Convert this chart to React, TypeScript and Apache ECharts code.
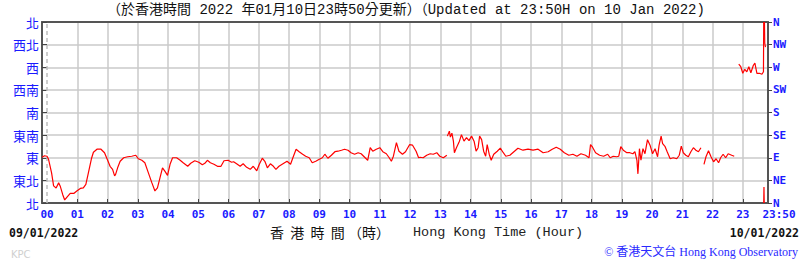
import React, { useEffect, useRef } from 'react';
import * as echarts from 'echarts';

const hourTickMinutes = [60, 120, 180, 240, 300, 360, 420, 480, 540, 600, 660, 720, 780, 840, 900, 960, 1020, 1080, 1140, 1200, 1260, 1320, 1380];
const labelMinutes = [0, 60, 120, 180, 240, 300, 360, 420, 480, 540, 600, 660, 720, 780, 840, 900, 960, 1020, 1080, 1140, 1200, 1260, 1320, 1380, 1430];
const hourLabels = ['00', '01', '02', '03', '04', '05', '06', '07', '08', '09', '10', '11', '12', '13', '14', '15', '16', '17', '18', '19', '20', '21', '22', '23', '23:50'];
const dirLabelsZh = ['北', '東北', '東', '東南', '南', '西南', '西', '西北', '北'];
const dirLabelsEn = ['N', 'NE', 'E', 'SE', 'S', 'SW', 'W', 'NW', 'N'];

const seg1: [number, number][] = [
  [-10, 91], [-5, 94], [0, 93], [3, 87], [9, 60], [13, 34], [18, 30], [23, 40], [26, 34], [31, 17], [35, 6], [40, 12], [46, 19], [53, 19], [59, 24], [66, 29], [72, 30], [77, 37], [82, 60], [88, 88], [92, 101], [99, 107], [107, 107], [114, 100], [121, 83], [125, 73], [130, 67], [134, 54], [136, 57], [140, 70], [145, 83], [152, 90], [160, 92], [168, 93], [176, 95], [181, 88], [188, 85], [194, 80], [201, 60], [208, 40], [214, 24], [219, 30], [224, 50], [229, 70], [234, 63], [239, 55], [244, 77], [249, 90], [257, 90], [264, 85], [270, 80], [279, 73], [285, 79], [293, 84], [301, 81], [308, 76], [313, 79], [318, 85], [324, 80], [331, 77], [338, 73], [345, 73], [351, 84], [359, 85], [366, 81],
  [370, 82], [376, 78], [383, 73], [389, 78], [396, 71], [403, 67], [409, 73], [416, 64], [421, 77], [427, 89], [432, 83], [437, 70], [443, 78], [449, 73], [454, 67], [460, 73], [468, 78], [476, 83], [483, 77], [488, 91], [494, 107], [500, 102], [507, 97], [513, 93], [520, 90], [526, 80], [533, 83], [540, 87], [546, 90], [551, 97], [557, 89], [564, 95], [571, 102], [577, 103], [584, 105], [590, 107], [597, 105], [603, 100], [610, 97], [617, 100], [623, 98], [630, 91], [636, 85], [641, 110], [646, 103], [653, 107], [660, 110], [666, 102], [673, 98], [678, 91], [683, 83], [687, 93], [693, 120], [698, 103], [705, 97], [711, 102], [719, 116], [725, 115], [732, 103], [737, 90],
  [740, 91], [746, 90], [753, 95], [760, 98], [766, 97], [773, 100], [779, 93], [786, 90], [793, 95],
];
const seg2: [number, number][] = [
  [794, 133], [798, 143], [800, 131], [803, 139], [806, 123], [808, 100], [812, 110], [818, 123], [822, 136], [827, 123], [832, 130], [837, 124], [842, 133], [847, 123], [851, 103], [855, 110], [858, 133], [862, 126], [866, 103], [870, 93], [873, 116], [877, 97], [881, 85], [886, 97], [893, 103], [899, 109], [905, 100], [910, 93], [918, 95], [926, 102], [934, 109], [944, 105], [954, 107], [964, 105], [974, 107], [984, 100], [994, 102], [1002, 107], [1010, 111], [1018, 107], [1026, 100], [1035, 95], [1043, 97], [1051, 93], [1059, 98], [1068, 95], [1075, 90], [1078, 116], [1082, 111], [1088, 100], [1096, 95], [1104, 93], [1112, 97],
  [1117, 90], [1123, 93], [1130, 92], [1134, 93], [1138, 112], [1143, 105], [1150, 100], [1156, 100], [1162, 98], [1166, 102], [1170, 85], [1172, 58], [1175, 108], [1178, 85], [1182, 108], [1186, 98], [1191, 126], [1196, 115], [1201, 98], [1206, 108], [1211, 92], [1214, 115], [1218, 133], [1221, 118], [1226, 112], [1230, 102], [1236, 88], [1242, 90], [1249, 88], [1254, 95], [1258, 113], [1262, 100], [1267, 95], [1272, 92], [1277, 102], [1282, 110], [1287, 105], [1292, 102], [1297, 110],
];
const seg3: [number, number][] = [
  [1303, 77], [1307, 92], [1312, 104], [1317, 92], [1322, 82], [1327, 88], [1332, 80], [1336, 90], [1341, 97], [1346, 90], [1351, 98], [1358, 95], [1363, 93],
];
const seg4: [number, number][] = [
  [1372, 276], [1376, 271], [1380, 258], [1384, 266], [1388, 261], [1392, 271], [1396, 259], [1401, 274], [1404, 278], [1408, 258], [1413, 258], [1418, 256], [1421, 261], [1421.5, 360],
];
const seg5: [number, number][] = [[1421.5, 0], [1422, 32], [1422.5, 0]];
const seg6: [number, number][] = [[1423, 360], [1423.5, 318], [1425, 310]];
const segments = [seg1, seg2, seg3, seg4, seg5, seg6];

const MONO = "'DejaVu Sans Mono', 'Liberation Mono', monospace";
const TITLE_FONT = "'Liberation Mono', 'Noto Sans CJK TC', monospace";
const BLUE = '#1a1aff';
const FRAME = '#555555';
const GRID = '#cacaca';

export default function App() {
  const ref = useRef<HTMLDivElement>(null);
  useEffect(() => {
    document.body.style.margin = '0';
    if (!ref.current) return;
    const chart = echarts.init(ref.current, null, { renderer: 'svg' });
    const lineSeries: any[] = segments.map((seg, i) => ({
      type: 'line',
      data: seg,
      showSymbol: false,
      symbol: 'none',
      lineStyle: { color: '#ff0000', width: 1.2 },
      z: 5,
      markLine: i === 0 ? {
        silent: true,
        symbol: 'none',
        label: { show: false },
        lineStyle: { type: [4, 3], color: '#bdbdbd', width: 1.5 },
        data: [{ xAxis: 0 }],
      } : undefined,
    }));
    chart.setOption({
      animation: false,
      title: {
        text: '（於香港時間 2022 年01月10日23時50分更新）（Updated at 23:50H on 10 Jan 2022)',
        left: 'center',
        top: 3,
        padding: 0,
        textStyle: { fontFamily: TITLE_FONT, fontSize: 14, fontWeight: 'normal', color: '#111' },
      },
      grid: { left: 42, right: 44, top: 22, bottom: 63 },
      xAxis: [
        {
          type: 'value',
          min: -10,
          max: 1430,
          axisLine: { show: true, onZero: false, lineStyle: { color: FRAME, width: 2 } },
          axisTick: { show: true, inside: true, length: 4, customValues: hourTickMinutes, lineStyle: { color: '#444', width: 1 } },
          splitLine: { show: true, lineStyle: { color: GRID, width: 1.5 } },
          axisLabel: {
            customValues: labelMinutes,
            margin: 6,
            color: BLUE,
            fontFamily: MONO,
            fontWeight: 'bold',
            fontSize: 11,
            formatter: (v: number) => {
              const idx = labelMinutes.indexOf(v);
              const t = idx >= 0 ? hourLabels[idx] : '';
              return v === 1430 ? '{r|' + t + '}' : t;
            },
            rich: {
              r: { padding: [0, 0, 0, 22], color: BLUE, fontFamily: MONO, fontWeight: 'bold', fontSize: 11 },
            },
          },
        },
        {
          type: 'value', min: -10, max: 1430, position: 'top',
          axisLine: { show: true, onZero: false, lineStyle: { color: FRAME, width: 2 } },
          axisTick: { show: false }, axisLabel: { show: false }, splitLine: { show: false },
        },
      ],
      yAxis: [
        {
          type: 'value', min: 0, max: 360, interval: 45, position: 'left',
          axisLine: { show: true, onZero: false, lineStyle: { color: FRAME, width: 2 } },
          axisTick: { show: true, inside: true, length: 5, lineStyle: { color: '#444' } },
          splitLine: { show: true, lineStyle: { color: GRID, width: 1.5 } },
          axisLabel: {
            margin: 3, color: BLUE, fontSize: 13, fontFamily: "'Noto Sans CJK TC', sans-serif", fontWeight: 'normal',
            formatter: (v: number) => dirLabelsZh[Math.round(v / 45)],
          },
        },
        {
          type: 'value', min: 0, max: 360, interval: 45, position: 'right',
          axisLine: { show: true, onZero: false, lineStyle: { color: FRAME, width: 2 } },
          axisTick: { show: true, inside: false, length: 4, lineStyle: { color: '#444' } },
          splitLine: { show: false },
          axisLabel: {
            margin: 5, color: BLUE, fontSize: 11, fontFamily: MONO, fontWeight: 'bold',
            formatter: (v: number) => dirLabelsEn[Math.round(v / 45)],
          },
        },
      ],
      series: lineSeries,
      graphic: [
        { type: 'text', left: 9, top: 227, style: { text: '09/01/2022', font: "bold 11.5px 'DejaVu Sans Mono', monospace", fill: '#111' } },
        { type: 'text', right: 13, top: 227, style: { text: '10/01/2022', font: "bold 11.5px 'DejaVu Sans Mono', monospace", fill: '#111' } },
        { type: 'text', left: 270, top: 225, style: { text: '香  港  時  間 （時）', font: "14px 'Noto Sans CJK TC', sans-serif", fill: '#111' } },
        { type: 'text', left: 413, top: 225, style: { text: 'Hong Kong Time (Hour)', font: "13.5px 'Liberation Mono', monospace", fill: '#222' } },
        { type: 'text', left: 11, top: 249, style: { text: 'KPC', font: "10px 'DejaVu Sans', sans-serif", fill: '#d0d0d0' } },
        { type: 'text', right: 14, top: 246, style: { text: '© 香港天文台 Hong Kong Observatory', font: "12px 'Liberation Serif', 'Noto Sans CJK TC', serif", fill: '#2a2aff' } },
      ],
    });
    return () => chart.dispose();
  }, []);
  return <div ref={ref} style={{ width: 812, height: 266 }} />;
}
